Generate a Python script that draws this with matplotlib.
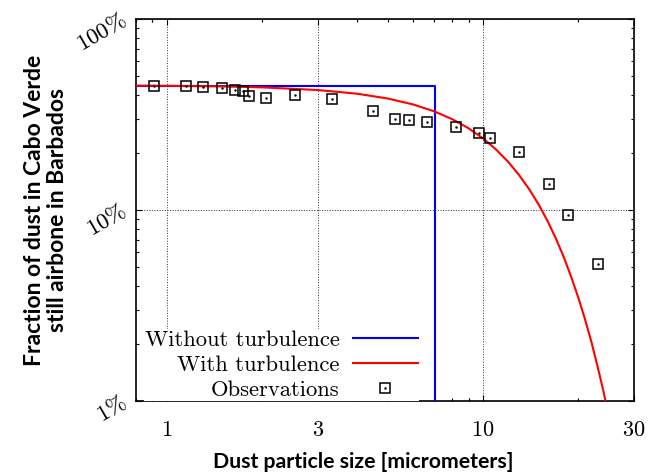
import matplotlib
matplotlib.use("Agg")
import matplotlib.pyplot as plt
from matplotlib.ticker import FixedLocator, LogLocator, NullFormatter

plt.rcParams['mathtext.fontset'] = 'cm'

# observations (particle size in micrometers, fraction still airborne)
obs_size = [0.91, 1.15, 1.30, 1.50, 1.65, 1.74, 1.82, 2.06, 2.55, 3.32, 4.48,
            5.28, 5.84, 6.64, 8.20, 9.71, 10.55, 12.96, 16.15, 18.58, 23.06]
obs_frac = [0.446, 0.447, 0.442, 0.437, 0.427, 0.420, 0.397, 0.387, 0.400, 0.383, 0.330,
            0.300, 0.295, 0.289, 0.272, 0.254, 0.238, 0.2005, 0.137, 0.094, 0.052]

# model without turbulence: flat, then sharp cutoff
noturb_size = [0.8, 7.07, 7.07]
noturb_frac = [0.448, 0.448, 0.001]

# model with turbulence
turb_size = [0.8, 1, 1.5, 2, 3, 4, 5, 6, 7, 8, 9, 10, 11, 12, 13, 14,
             15, 16, 17, 18, 19, 20, 21, 22, 23, 24, 25, 26]
turb_frac = [0.448, 0.447, 0.4436, 0.4386, 0.4248, 0.4062, 0.3835, 0.3573, 0.3288,
             0.2986, 0.2679, 0.2370, 0.2072, 0.1789, 0.1524, 0.1283, 0.1066, 0.0874,
             0.0708, 0.0566, 0.0446, 0.0348, 0.0268, 0.0204, 0.0152, 0.0113, 0.0082, 0.0059]

xticks = [1, 3, 10, 30]
xtick_labels = [r'$1$', r'$3$', r'$10$', r'$30$']
yticks = [0.01, 0.1, 1]
ytick_labels = [r'$1\%$', r'$10\%$', r'$100\%$']

fig = plt.figure(figsize=(6.48, 4.74), dpi=100)
ax = fig.add_axes([136/648, 73/474, 498/648, 382/474])

h_blue, = ax.plot(noturb_size, noturb_frac, color='#0000ff', lw=1.5, zorder=3)
h_red, = ax.plot(turb_size, turb_frac, color='#ff0000', lw=1.5, zorder=3)
h_sq, = ax.plot(obs_size, obs_frac, ls='none', marker='s', ms=6.5, mfc='none', mec='black',
                mew=1.1, zorder=4)
h_dot, = ax.plot(obs_size, obs_frac, ls='none', marker='.', ms=1.5, color='black', zorder=4)

ax.set_xscale('log')
ax.set_yscale('log')
ax.set_xlim(0.8, 30)
ax.set_ylim(0.01, 1)

ax.xaxis.set_major_locator(FixedLocator(xticks))
ax.set_xticklabels(xtick_labels, fontsize=16)
ax.xaxis.set_minor_locator(LogLocator(subs=[2, 4, 5, 6, 7, 8, 9, 0.9]))
ax.xaxis.set_minor_formatter(NullFormatter())
ax.yaxis.set_major_locator(FixedLocator(yticks))
ax.set_yticklabels(ytick_labels, fontsize=16.5, rotation=30, rotation_mode='anchor',
                   ha='right', va='center')
ax.yaxis.set_minor_locator(LogLocator(subs=range(2, 10)))
ax.yaxis.set_minor_formatter(NullFormatter())

ax.tick_params(which='both', direction='in', top=True, right=True, width=0.8)
ax.tick_params(which='major', length=4.5)
ax.tick_params(which='minor', length=2.5)
ax.tick_params(axis='x', which='major', pad=14)
ax.tick_params(axis='y', which='major', pad=8)
for sp in ax.spines.values():
    sp.set_linewidth(1.2)

ax.grid(True, which='major', ls=':', color='#333333', lw=0.7)

ax.set_xlabel('Dust particle size [micrometers]', fontfamily='Lato', fontweight='bold',
              fontsize=15.3)
ax.xaxis.set_label_coords(0.457, -0.133)
ax.set_ylabel('Fraction of dust in Cabo Verde\nstill airbone in Barbados', fontfamily='Lato',
              fontweight='bold', fontsize=16.5, va='center', linespacing=1.15)
ax.yaxis.set_label_coords(-0.181, 0.5)

leg = ax.legend([h_blue, h_red, (h_sq, h_dot)],
                ['Without turbulence', 'With turbulence', 'Observations'],
                loc='lower right', bbox_to_anchor=(0.568, 0.0), markerfirst=False,
                prop={'family': 'cmr10', 'size': 16.3}, handlelength=2.85, handletextpad=0.6,
                labelspacing=0.22, borderpad=0.05, borderaxespad=0, frameon=True,
                fancybox=False, framealpha=1, edgecolor='none', facecolor='white')
leg.set_zorder(5)

fig.savefig('out.png', dpi=100)
